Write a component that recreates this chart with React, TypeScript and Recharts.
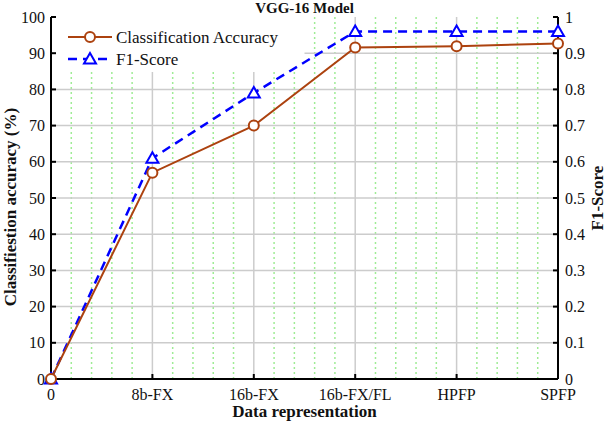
import React from "react";
import { LineChart, Line, XAxis, YAxis, CartesianGrid, Legend, ReferenceArea } from "recharts";

const categories = ["0", "8b-FX", "16b-FX", "16b-FX/FL", "HPFP", "SPFP"];
const accuracy = [0, 57, 70, 91.6, 91.9, 92.7];
const f1Score = [0, 0.61, 0.79, 0.96, 0.96, 0.96];
const accuracyTicks = [0, 10, 20, 30, 40, 50, 60, 70, 80, 90, 100];
const f1Ticks = [0, 0.1, 0.2, 0.3, 0.4, 0.5, 0.6, 0.7, 0.8, 0.9, 1];

const ACC_COLOR = "#AC420F";
const F1_COLOR = "#0000FF";
const FONT = '"Liberation Serif", "Times New Roman", serif';

const data = categories.map((name, i) => ({
  x: i,
  name,
  accuracy: accuracy[i],
  f1: f1Score[i]
}));

const xTicks = categories.map((_, i) => i);
// green dotted minor grid, 5 steps per category
const minorX = xTicks.slice(0, -1).flatMap((i) => [0.2, 0.4, 0.6, 0.8].map((f) => i + f));
const majorX = xTicks.slice(1, -1);
const majorY = accuracyTicks.slice(1, -1);

function Triangle(props: any) {
  const { cx, cy } = props;
  if (cx == null || cy == null) return null;
  return (
    <polygon
      points={`${cx},${cy - 6} ${cx - 6},${cy + 4.5} ${cx + 6},${cy + 4.5}`}
      fill="#fff"
      stroke={F1_COLOR}
      strokeWidth={2}
    />
  );
}

function LegendBox() {
  return (
    <svg width={230} height={54} style={{ display: "block" }}>
      <line x1={16} x2={60} y1={19} y2={19} stroke={ACC_COLOR} strokeWidth={2} />
      <circle cx={38} cy={19} r={5} fill="#fff" stroke={ACC_COLOR} strokeWidth={2} />
      <text x={64} y={19} dy="0.35em" fontSize={17} fill="#111" fontFamily={FONT}>
        Classification Accuracy
      </text>
      <line x1={16} x2={60} y1={41} y2={41} stroke={F1_COLOR} strokeWidth={2.5} strokeDasharray="9 6" />
      <Triangle cx={38} cy={41} />
      <text x={64} y={41} dy="0.35em" fontSize={17} fill="#111" fontFamily={FONT}>
        F1-Score
      </text>
    </svg>
  );
}

function leftTitle(props: any) {
  const vb = props.viewBox;
  const cx = vb.x + 10;
  const cy = vb.y + vb.height / 2 + 9;
  return (
    <text
      x={cx}
      y={cy}
      transform={`rotate(-90 ${cx} ${cy})`}
      textAnchor="middle"
      dominantBaseline="central"
      fontSize={17}
      fontWeight="bold"
      fill="#111"
      fontFamily={FONT}
    >
      Classifiestion accuracy (%)
    </text>
  );
}

function rightTitle(props: any) {
  const vb = props.viewBox;
  const cx = vb.x + 39;
  const cy = vb.y + vb.height / 2;
  return (
    <text
      x={cx}
      y={cy}
      transform={`rotate(-90 ${cx} ${cy})`}
      textAnchor="middle"
      dominantBaseline="central"
      fontSize={17}
      fontWeight="bold"
      fill="#111"
      fontFamily={FONT}
    >
      F1-Score
    </text>
  );
}

function bottomTitle(props: any) {
  const vb = props.viewBox;
  return (
    <text
      x={vb.x + vb.width / 2}
      y={vb.y + 38}
      textAnchor="middle"
      fontSize={17}
      fontWeight="bold"
      fill="#111"
      fontFamily={FONT}
    >
      Data representation
    </text>
  );
}

const tickStyle = { fill: "#111", fontSize: 16, fontFamily: FONT };
const axisLine = { stroke: "#000", strokeWidth: 2 };
const tickLine = { stroke: "#000", strokeWidth: 2 };

export default function App() {
  return (
    <div
      style={{
        position: "absolute",
        left: 0,
        top: 0,
        width: 606,
        height: 423,
        background: "#fff",
        fontFamily: FONT
      }}
    >
      <LineChart width={606} height={423} data={data} margin={{ top: 17, right: 0, bottom: 0, left: 0 }}>
        <CartesianGrid
          horizontal={false}
          verticalValues={minorX}
          stroke="#9fec95"
          strokeWidth={1.5}
          strokeDasharray="2 3"
        />
        <CartesianGrid
          horizontalValues={majorY}
          verticalValues={majorX}
          stroke="#cccccc"
          strokeWidth={1.5}
        />
        {/* white legend backing, under the lines */}
        <ReferenceArea x1={0.01} x2={2.5} y1={84.8} y2={100} fill="#fff" fillOpacity={1} stroke="none" />
        <XAxis
          dataKey="x"
          type="number"
          domain={[0, 5]}
          ticks={xTicks}
          interval={0}
          tickFormatter={(v: number) => categories[v]}
          height={44}
          axisLine={axisLine}
          tickLine={tickLine}
          tickSize={-5}
          tickMargin={15}
          tick={tickStyle}
          label={{ content: bottomTitle }}
        />
        <XAxis
          xAxisId="top"
          orientation="top"
          type="number"
          domain={[0, 5]}
          ticks={xTicks}
          height={0}
          axisLine={axisLine}
          tickLine={tickLine}
          tickSize={-5}
          tick={false}
        />
        <YAxis
          type="number"
          domain={[0, 100]}
          ticks={accuracyTicks}
          interval={0}
          width={51}
          axisLine={axisLine}
          tickLine={tickLine}
          tickSize={-5}
          tickMargin={11}
          tick={tickStyle}
          label={{ content: leftTitle }}
        />
        <YAxis
          yAxisId="right"
          orientation="right"
          type="number"
          domain={[0, 1]}
          ticks={f1Ticks}
          interval={0}
          width={48}
          axisLine={axisLine}
          tickLine={tickLine}
          tickSize={-5}
          tickMargin={12}
          tick={tickStyle}
          label={{ content: rightTitle }}
        />
        <Legend
          layout="horizontal"
          verticalAlign="middle"
          align="center"
          content={() => <LegendBox />}
          wrapperStyle={{ top: 18, left: 52, width: 230, height: 54 }}
        />
        <Line
          type="linear"
          dataKey="f1"
          yAxisId="right"
          stroke={F1_COLOR}
          strokeWidth={2.5}
          strokeDasharray="9 6"
          dot={(p: any) => <Triangle key={p.index} cx={p.cx} cy={p.cy} />}
          activeDot={false}
          isAnimationActive={false}
        />
        <Line
          type="linear"
          dataKey="accuracy"
          stroke={ACC_COLOR}
          strokeWidth={2}
          dot={{ r: 5, fill: "#fff", stroke: ACC_COLOR, strokeWidth: 2 }}
          activeDot={false}
          isAnimationActive={false}
        />
      </LineChart>
      <div
        style={{
          position: "absolute",
          left: 0,
          top: 1,
          width: 609,
          textAlign: "center",
          fontSize: 15,
          lineHeight: "15px",
          fontWeight: "bold",
          color: "#111",
          fontFamily: FONT
        }}
      >
        VGG-16 Model
      </div>
    </div>
  );
}
